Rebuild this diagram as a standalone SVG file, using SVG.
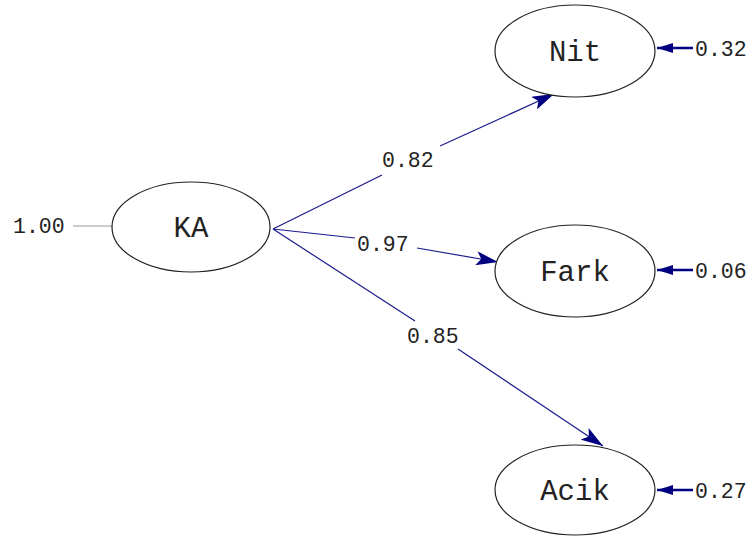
<svg xmlns="http://www.w3.org/2000/svg" width="753" height="539" viewBox="0 0 753 539">
<style>
.node{fill:#fff;stroke:#222;stroke-width:1.2}
.lbl{font-family:"Liberation Mono","Courier New",monospace;font-size:29px;fill:#222;text-anchor:middle}
.num{font-family:"Liberation Mono","Courier New",monospace;font-size:21.5px;fill:#222}
.edge{stroke:#1a1a8c;stroke-width:1.2;fill:none}
.err{stroke:#000080;stroke-width:2.5;fill:none}
</style>
<defs>
<marker id="ah" viewBox="0 0 22 14" refX="22" refY="7" markerWidth="22" markerHeight="14" markerUnits="userSpaceOnUse" orient="auto">
<path d="M0,0 L22,7 L0,14 L5,7 z" fill="#000080"/>
</marker>
<marker id="ahs" viewBox="0 0 16 10" refX="16" refY="5" markerWidth="16" markerHeight="10" markerUnits="userSpaceOnUse" orient="auto">
<path d="M0,0 L16,5 L0,10 z" fill="#000080"/>
</marker>
</defs>
<g id="connectors">
<line x1="73" y1="226" x2="112" y2="226" stroke="#999" stroke-width="1.2"/>
<line class="edge" x1="273" y1="229" x2="382" y2="175"/>
<line class="edge" x1="440" y1="146" x2="554" y2="94" marker-end="url(#ah)"/>
<line class="edge" x1="273" y1="229" x2="355" y2="238"/>
<line class="edge" x1="417" y1="248" x2="498" y2="262" marker-end="url(#ah)"/>
<line class="edge" x1="273" y1="229" x2="415" y2="321"/>
<line class="edge" x1="458" y1="349" x2="603" y2="446" marker-end="url(#ah)"/>
<line class="err" x1="693" y1="48" x2="657" y2="48" marker-end="url(#ahs)"/>
<line class="err" x1="693" y1="270" x2="657" y2="270" marker-end="url(#ahs)"/>
<line class="err" x1="693" y1="490" x2="657" y2="490" marker-end="url(#ahs)"/>
<text class="num" x="13" y="233">1.00</text>
<text class="num" x="382" y="167">0.82</text>
<text class="num" x="357" y="251">0.97</text>
<text class="num" x="407" y="343">0.85</text>
<text class="num" x="695" y="56">0.32</text>
<text class="num" x="695" y="278">0.06</text>
<text class="num" x="695" y="498">0.27</text>
</g>
<g id="KA"><ellipse class="node" cx="191" cy="227" rx="79" ry="45"/><text class="lbl" x="191" y="237">KA</text></g>
<g id="Nit"><ellipse class="node" cx="575" cy="51" rx="80" ry="46"/><text class="lbl" x="575" y="61">Nit</text></g>
<g id="Fark"><ellipse class="node" cx="575" cy="271" rx="80" ry="46"/><text class="lbl" x="575" y="281">Fark</text></g>
<g id="Acik"><ellipse class="node" cx="575" cy="490" rx="80" ry="45"/><text class="lbl" x="575" y="500">Acik</text></g>
</svg>
